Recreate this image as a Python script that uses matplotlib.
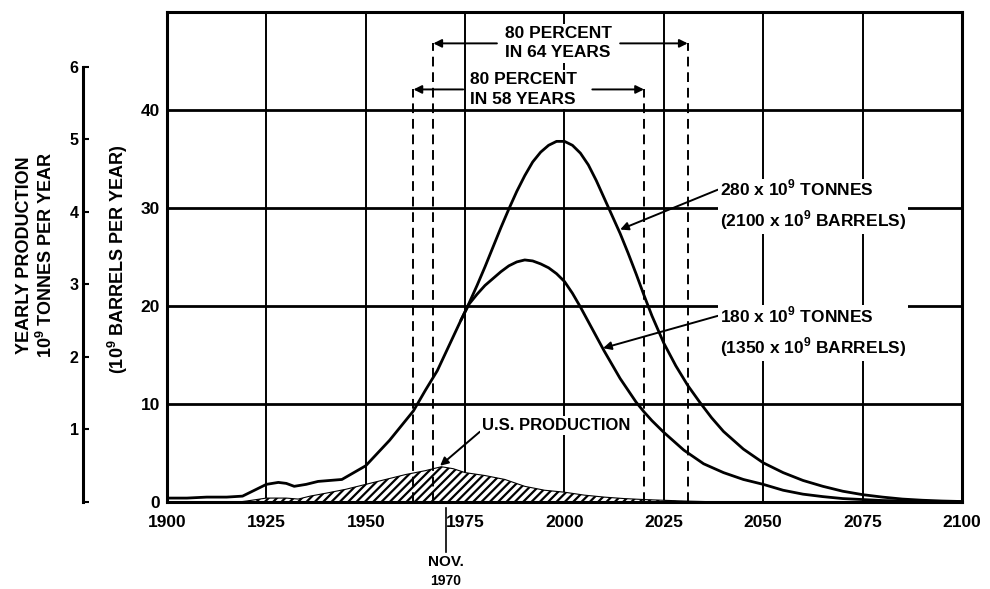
import matplotlib
matplotlib.use("Agg")
import matplotlib.pyplot as plt

plt.rcParams["font.family"] = ["Liberation Sans", "DejaVu Sans"]
plt.rcParams["font.weight"] = "bold"
plt.rcParams["mathtext.fontset"] = "custom"
plt.rcParams["mathtext.rm"] = "Liberation Sans:bold"
plt.rcParams["mathtext.bf"] = "Liberation Sans:bold"
plt.rcParams["hatch.linewidth"] = 1.6

# world production, shared history up to mid 1970s (10^9 barrels / yr)
early_years = [1900, 1905, 1910, 1915, 1919, 1922, 1925, 1928, 1930, 1932, 1935, 1938,
               1941, 1944, 1947, 1950, 1953, 1956, 1959, 1962, 1965, 1968, 1971, 1974]
early_vals = [0.4, 0.4, 0.5, 0.5, 0.6, 1.2, 1.8, 2.0, 1.9, 1.6, 1.8, 2.1,
              2.2, 2.3, 3.0, 3.7, 5.0, 6.3, 7.8, 9.3, 11.4, 13.4, 16.0, 18.6]

# 280 x 10^9 tonnes curve
big_years = [1976, 1978, 1980, 1982, 1984, 1986, 1988, 1990, 1992, 1994, 1996, 1998,
             2000, 2002, 2004, 2006, 2008, 2010, 2012, 2014, 2016, 2018, 2020, 2022,
             2025, 2028, 2031, 2034, 2037, 2040, 2045, 2050, 2055, 2060, 2065, 2070,
             2075, 2080, 2085, 2090, 2095, 2100]
big_vals = [20.3, 22.1, 24.0, 26.0, 28.0, 29.9, 31.7, 33.3, 34.7, 35.7, 36.4, 36.8,
            36.8, 36.4, 35.6, 34.4, 32.8, 31.0, 29.2, 27.4, 25.4, 23.3, 21.1, 19.0,
            16.2, 13.9, 11.9, 10.2, 8.6, 7.2, 5.4, 4.0, 3.0, 2.2, 1.6, 1.1,
            0.75, 0.5, 0.3, 0.18, 0.1, 0.05]

# 180 x 10^9 tonnes curve
small_years = [1976, 1978, 1980, 1982, 1984, 1986, 1988, 1990, 1992, 1994, 1996, 1998,
               2000, 2002, 2004, 2006, 2008, 2010, 2012, 2014, 2016, 2018, 2020, 2022,
               2025, 2030, 2035, 2040, 2045, 2050, 2055, 2060, 2065, 2070, 2075, 2080,
               2090, 2100]
small_vals = [20.2, 21.2, 22.1, 22.8, 23.5, 24.1, 24.5, 24.7, 24.6, 24.3, 23.9, 23.3,
              22.5, 21.3, 19.9, 18.4, 16.9, 15.4, 14.0, 12.6, 11.4, 10.2, 9.2, 8.3,
              7.1, 5.3, 3.9, 3.0, 2.3, 1.8, 1.2, 0.8, 0.55, 0.35, 0.25, 0.15,
              0.06, 0.02]

# U.S. production (hatched)
us_years = [1918, 1920, 1925, 1930, 1933, 1936, 1940, 1945, 1950, 1955, 1960, 1965, 1969,
            1972, 1975, 1980, 1985, 1990, 1995, 2000, 2005, 2010, 2015, 2020, 2030, 2040]
us_vals = [0.0, 0.1, 0.4, 0.4, 0.3, 0.6, 0.9, 1.3, 1.8, 2.3, 2.8, 3.2, 3.6,
           3.4, 3.0, 2.7, 2.3, 1.6, 1.2, 1.0, 0.7, 0.5, 0.35, 0.25, 0.1, 0.0]

x_ticks = [1900, 1925, 1950, 1975, 2000, 2025, 2050, 2075, 2100]
y_ticks = [0, 10, 20, 30, 40]
tonne_ticks = [0, 1, 2, 3, 4, 5, 6]
barrels_per_tonne = 7.4

fig = plt.figure(figsize=(9.9, 5.89), dpi=100)
ax = fig.add_axes([0.1687, 0.1477, 0.8030, 0.8319])

ax.set_xlim(1900, 2100)
ax.set_ylim(0, 50)
ax.set_xticks(x_ticks)
ax.set_yticks(y_ticks)
ax.tick_params(axis="both", length=0, labelsize=12.5)
ax.tick_params(axis="x", pad=9)
ax.tick_params(axis="y", pad=5)
for s in ax.spines.values():
    s.set_linewidth(2.2)
ax.set_axisbelow(True)
ax.grid(axis="x", color="black", linewidth=1.4)
ax.grid(axis="y", color="black", linewidth=2.0)

line_kw = dict(color="black", linewidth=2.0, zorder=3, solid_joinstyle="round")
ax.plot(early_years + big_years, early_vals + big_vals, **line_kw)
ax.plot(early_years[-1:] + small_years, early_vals[-1:] + small_vals, **line_kw)

ax.fill_between(us_years, 0, us_vals, facecolor="white", edgecolor="black",
                hatch="////", linewidth=0.8, zorder=2)

# 80 percent brackets
dash_kw = dict(color="black", linewidth=1.4, linestyle=(0, (5, 3)), zorder=2.5)
ax.plot([1962, 1962], [0, 42.1], **dash_kw)
ax.plot([2020, 2020], [0, 42.1], **dash_kw)
ax.plot([1967, 1967], [0, 46.8], **dash_kw)
ax.plot([2031, 2031], [0, 46.8], **dash_kw)

arr = dict(arrowstyle="-|>", color="black", lw=1.4, mutation_scale=12, shrinkA=0, shrinkB=0)
ax.annotate("", xy=(1967, 46.8), xytext=(1983, 46.8), arrowprops=arr, zorder=4)
ax.annotate("", xy=(2031, 46.8), xytext=(2014, 46.8), arrowprops=arr, zorder=4)
ax.annotate("", xy=(1962, 42.1), xytext=(1974.5, 42.1), arrowprops=arr, zorder=4)
ax.annotate("", xy=(2020, 42.1), xytext=(2007, 42.1), arrowprops=arr, zorder=4)

box = dict(facecolor="white", edgecolor="none", pad=1.5)
ax.text(1998.4, 46.8, "80 PERCENT\nIN 64 YEARS", ha="center", va="center",
        fontsize=12.5, bbox=box, zorder=5, linespacing=1.35)
ax.text(1976.2, 42.1, "80 PERCENT\nIN 58 YEARS", ha="left", va="center",
        fontsize=12.5, bbox=box, zorder=5, linespacing=1.35)

# curve labels
ax.annotate("280 x 10$^{9}$ TONNES\n(2100 x 10$^{9}$ BARRELS)", xy=(2014, 27.8),
            xytext=(2039.1, 30.3), ha="left", va="center", fontsize=12.5,
            bbox=box, zorder=5, linespacing=1.55,
            arrowprops=dict(arrowstyle="-|>", color="black", lw=1.4, mutation_scale=12,
                            shrinkA=0, shrinkB=0, relpos=(0, 0.8)))
ax.annotate("180 x 10$^{9}$ TONNES\n(1350 x 10$^{9}$ BARRELS)", xy=(2009.7, 15.7),
            xytext=(2039.1, 17.4), ha="left", va="center", fontsize=12.5,
            bbox=box, zorder=5, linespacing=1.55,
            arrowprops=dict(arrowstyle="-|>", color="black", lw=1.4, mutation_scale=12,
                            shrinkA=0, shrinkB=0, relpos=(0, 0.8)))

ax.annotate("U.S. PRODUCTION", xy=(1968.7, 3.7), xytext=(1979.2, 7.8),
            ha="left", va="center", fontsize=12, bbox=box, zorder=5,
            arrowprops=dict(arrowstyle="-|>", color="black", lw=1.4, mutation_scale=12,
                            shrinkA=0, shrinkB=0, relpos=(0, 0.2)))

# Nov. 1970 marker below axis
ax.plot([1970.2, 1970.2], [-0.6, -5.1], color="black", linewidth=1.2, clip_on=False)
ax.text(1970.2, -6.1, "NOV.", ha="center", va="center", fontsize=11, clip_on=False)
ax.text(1970.2, -8.1, "1970", ha="center", va="center", fontsize=10, clip_on=False)

# tonnes scale on the far left
ax2 = ax.twinx()
ax2.set_ylim(0, 50 / barrels_per_tonne)
ax2.set_yticks(tonne_ticks)
ax2.set_yticklabels([""] + [str(t) for t in tonne_ticks[1:]])
ax2.yaxis.set_ticks_position("left")
for name in ["top", "right", "bottom"]:
    ax2.spines[name].set_visible(False)
ax2.spines["left"].set_visible(True)
ax2.spines["left"].set_position(("axes", -0.1057))
ax2.spines["left"].set_bounds(0, 6)
ax2.spines["left"].set_linewidth(2.2)
ax2.tick_params(axis="y", direction="in", length=4, width=1.5, pad=3, labelsize=11.5)

fig.text(0.025, 0.567, "YEARLY PRODUCTION", rotation=90, ha="center", va="center", fontsize=13)
fig.text(0.046, 0.567, "10$^{9}$ TONNES PER YEAR", rotation=90, ha="center", va="center", fontsize=13)
fig.text(0.119, 0.56, "(10$^{9}$ BARRELS PER YEAR)", rotation=90, ha="center", va="center", fontsize=13)

fig.savefig("out.png", dpi=100)
